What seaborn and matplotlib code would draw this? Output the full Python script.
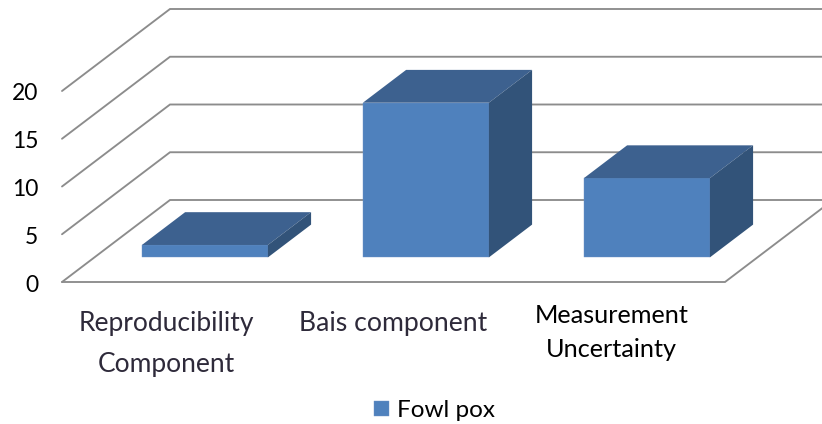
import matplotlib
matplotlib.use("Agg")
import matplotlib.pyplot as plt
import pandas as pd
import seaborn as sns
from matplotlib.patches import Polygon
from matplotlib.transforms import Affine2D

categories = ["Reproducibility\nComponent", "Bais component", "Measurement\nUncertainty"]
values = [1.3, 16.2, 8.3]
series_name = "Fowl pox"
y_ticks = [0, 5, 10, 15, 20]

W, H, DPI = 822, 424, 100
FRONT = "#4F81BD"
TOP = "#3D618F"
SIDE = "#325379"
GRID = "#8C8C8C"

sns.set_theme(style="white")
plt.rcParams["font.family"] = ["Lato", "DejaVu Sans"]

fig = plt.figure(figsize=(W / DPI, H / DPI), dpi=DPI, facecolor="white")
ax = fig.add_axes([62 / W, (H - 282) / H, 663 / W, 191 / H])

df = pd.DataFrame({"component": categories, "value": values})
sns.barplot(data=df, x="component", y="value", color=FRONT, saturation=1,
            width=0.57, label=series_name, ax=ax, zorder=3)
ax.set_xlim(-0.5, 2.5)
ax.set_ylim(0, 20)
ax.set_xlabel("")
ax.set_ylabel("")
sns.despine(ax=ax, left=True, bottom=True)

# Oblique projection: full floor depth in data units.
depth_x = 108 / 221
depth_y = 82 / (191 / 20)

# Left wall, back wall and floor edges.
for v in y_ticks:
    ax.plot([-0.5, -0.5 + depth_x, 2.5 + depth_x], [v, v + depth_y, v + depth_y],
            color=GRID, lw=1.35, clip_on=False, zorder=1, solid_joinstyle="miter")
ax.plot([-0.5, 2.5, 2.5 + depth_x], [0, 0, depth_y], color=GRID, lw=1.35,
        clip_on=False, zorder=1, solid_joinstyle="miter")

# Bars stand between 30% and 70% of the floor depth.
near = 0.30
span = 0.40
for bar in list(ax.patches):
    x0, w, h = bar.get_x(), bar.get_width(), bar.get_height()
    bx = x0 + near * depth_x
    by = near * depth_y
    ox, oy = span * depth_x, span * depth_y
    bar.set_xy((bx, by))
    bar.set_clip_on(False)
    bar.set_edgecolor("#6F94C6")
    bar.set_linewidth(0.3)
    top = [(bx, by + h), (bx + w, by + h), (bx + w + ox, by + h + oy), (bx + ox, by + h + oy)]
    side = [(bx + w, by), (bx + w + ox, by + oy), (bx + w + ox, by + h + oy), (bx + w, by + h)]
    ax.add_patch(Polygon(top, closed=True, fc=TOP, ec="none", clip_on=False, zorder=3))
    ax.add_patch(Polygon(side, closed=True, fc=SIDE, ec="none", clip_on=False, zorder=3))

ax.set_yticks(y_ticks)
ax.tick_params(axis="y", length=0, pad=17, labelsize=16.5, labelcolor="#000000")
ax.tick_params(axis="x", length=0, pad=21)
ax.set_xticks(range(len(categories)))
ax.set_xticklabels(categories)

# Value labels sit a pixel lower than the tick position.
for label in ax.get_yticklabels():
    label.set_transform(label.get_transform() + Affine2D().translate(0, -1))

# Individual placement and sizing of the category labels (offsets in pixels).
label_style = [(-6, 0, 19, 1.8, "#2E2A3A"), (0, 0, 19.2, 1.2, "#2E2A3A"), (-3, 7, 18.2, 1.56, "#000000")]
for label, (dx, dy, size, spacing, colour) in zip(ax.get_xticklabels(), label_style):
    label.set_transform(label.get_transform() + Affine2D().translate(dx, dy))
    label.set_fontsize(size)
    label.set_linespacing(spacing)
    label.set_color(colour)

ax.legend(loc="center", bbox_to_anchor=(434.5 / W, (H - 410.5) / H),
          bbox_transform=fig.transFigure, frameon=False, fontsize=17.5,
          handlelength=0.62, handleheight=0.62, handletextpad=0.3,
          labelcolor="#000000")

fig.savefig("out.png", dpi=DPI, facecolor="white")
